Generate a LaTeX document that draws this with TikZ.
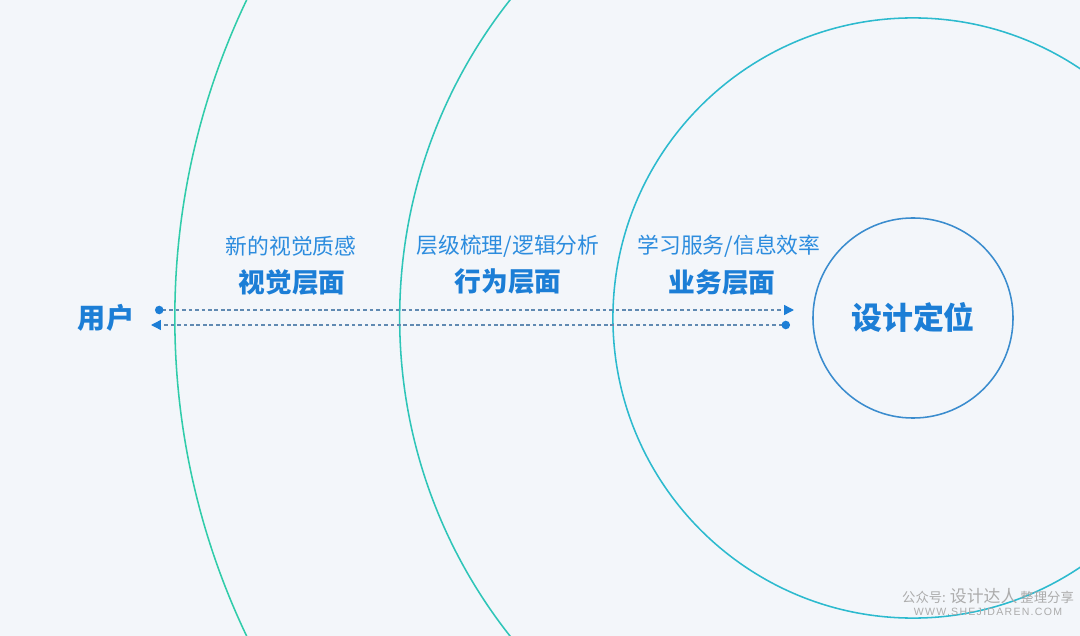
\documentclass[tikz,border=0pt]{standalone}
\usepackage{fontspec}
\newfontfamily\cjk{Noto Sans CJK SC}
\setsansfont{Liberation Sans}
\usepackage{tikz}
\usetikzlibrary{arrows.meta,positioning}
\definecolor{dwbg}{RGB}{243,246,250}
\definecolor{dwblue}{RGB}{28,126,214}
\definecolor{dwlight}{RGB}{44,140,222}
\definecolor{dwteal}{RGB}{48,204,170}
\definecolor{dwcyan}{RGB}{44,186,206}
\definecolor{dwring}{RGB}{58,140,206}
\definecolor{dwdash}{RGB}{96,138,178}
\definecolor{dwgray}{RGB}{172,172,172}
\tikzset{
  ring/.style={line width=1.1pt},
  core/.style={circle, draw=dwring, line width=1.1pt, minimum size=5cm, inner sep=0pt, text=dwblue, font=\cjk\bfseries\fontsize{22}{26}\selectfont},
  userlabel/.style={text=dwblue, font=\cjk\bfseries\fontsize{20}{24}\selectfont},
  layertitle/.style={text=dwblue, font=\cjk\bfseries\fontsize{19}{23}\selectfont},
  layernote/.style={text=dwlight, font=\cjk\fontsize{15.5}{19}\selectfont},
  flow/.style={draw=dwdash, line width=1pt, dash pattern=on 2.6pt off 2pt},
  flowtips/.style={{Circle[length=6pt,color=dwblue]}-{Triangle[length=7pt,width=7pt,color=dwblue]}},
  wmtext/.style={text=dwgray, inner sep=0pt}
}
\begin{document}
\begin{tikzpicture}[x=0.025cm,y=-0.025cm]
\useasboundingbox (0,0) rectangle (1080,636);
\fill[dwbg] (0,0) rectangle (1080,636);
\node[core] (pos) at (913,318) {设计定位};
\begin{scope}
\clip (0,0) rectangle (1080,636);
\draw[ring, draw=dwteal] (pos.center) circle[radius=18.45cm];
\draw[ring, draw=dwteal!60!dwcyan] (pos.center) circle[radius=12.83cm];
\draw[ring, draw=dwcyan] (pos.center) circle[radius=7.5cm];
\end{scope}
\node[userlabel] (user) at (106,318) {用户};
\node[layernote] (visualnote) at (291,246) {新的视觉质感};
\node[layertitle] (visual) at (292,282) {视觉层面};
\node[layernote] (behavenote) at (508,246) {层级梳理/逻辑分析};
\node[layertitle] (behave) at (508,282) {行为层面};
\node[layernote] (businessnote) at (729,246) {学习服务/信息效率};
\node[layertitle] (business) at (722,282) {业务层面};
\coordinate (userout) at (155,310);
\coordinate (userin) at (151,325);
\coordinate (posin) at (794,310);
\coordinate (posout) at (790,325);
\draw[flow, flowtips] (userout) -- (posin);
\draw[flow, flowtips] (posout) -- (userin);
\node[wmtext, font=\cjk\fontsize{9.5}{11}\selectfont] (wm) at (988,596) {公众号: {\fontsize{12}{13}\selectfont 设计达人} 整理分享};
\node[wmtext, font=\sffamily\fontsize{7.5}{9}\selectfont\addfontfeature{LetterSpace=12}, below=3pt of wm] (wmurl) {WWW.SHEJIDAREN.COM};
\end{tikzpicture}
\end{document}
